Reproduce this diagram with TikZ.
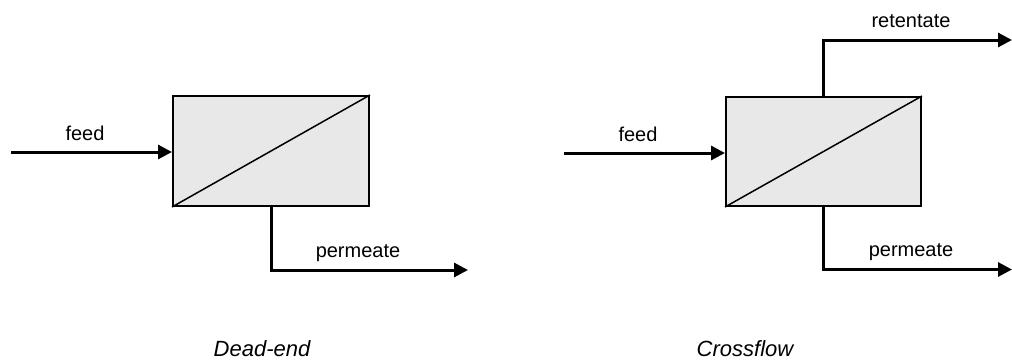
\documentclass[tikz,border=0pt]{standalone}
\usepackage{fontspec}
\setmainfont{Liberation Sans}
\usetikzlibrary{arrows.meta}
\begin{document}
\begin{tikzpicture}[x=0.5pt,y=-0.5pt,
  unit/.style={draw=black,line width=1pt,fill=boxgray,rectangle,inner sep=0pt,
    minimum width=#1},
  flow/.style={line width=1.5pt,-{Triangle[length=7pt,width=7pt]}},
  lbl/.style={font=\fontsize{10}{12}\selectfont,inner sep=0pt},
  captext/.style={font=\fontsize{11}{13}\selectfont\itshape,inner sep=0pt}]
\definecolor{boxgray}{HTML}{E8E8E8}
\useasboundingbox (0,0) rectangle (1012,359);
% Dead-end
\node[unit=98pt,minimum height=55pt] (box1) at (271,151) {};
\draw[line width=0.75pt] (box1.south west) -- (box1.north east);
\coordinate (fin1) at (11,152);
\coordinate (pout1) at (468,270);
\draw[flow] (fin1) -- (fin1 -| box1.west);
\draw[flow] (box1.south) |- (pout1);
\node[lbl] (feed1) at (85,133.5) {feed};
\node[lbl] (perm1) at (358,253) {permeate};
\node[captext] (cap1) at (262,349) {Dead-end};
% Crossflow
\node[unit=97.5pt,minimum height=54.5pt] (box2) at (823.5,151.5) {};
\draw[line width=0.75pt] (box2.south west) -- (box2.north east);
\coordinate (fin2) at (564,153);
\coordinate (rout2) at (1012,40);
\coordinate (pout2) at (1012,269.5);
\draw[flow] (fin2) -- (fin2 -| box2.west);
\draw[flow] (box2.north) |- (rout2);
\draw[flow] (box2.south) |- (pout2);
\node[lbl] (feed2) at (638,134) {feed};
\node[lbl] (ret2) at (911,21) {retentate};
\node[lbl] (perm2) at (911,252) {permeate};
\node[captext] (cap2) at (745,349) {Crossflow};
\end{tikzpicture}
\end{document}
